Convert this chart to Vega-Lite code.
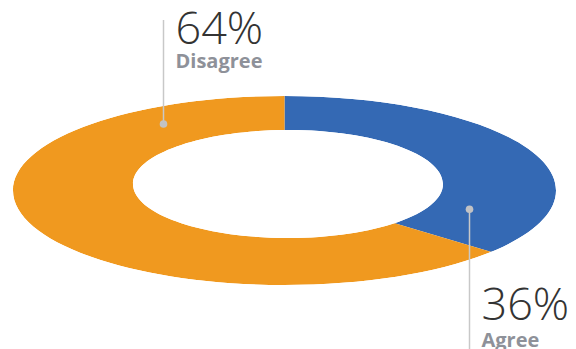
{
  "$schema": "https://vega.github.io/schema/vega-lite/v6.json",
  "width": 569,
  "height": 317,
  "autosize": "none",
  "padding": {"left": 0, "right": 7, "top": 32, "bottom": 0},
  "background": "white",
  "config": {"view": {"stroke": null}},
  "data": {
    "values": [
      {"answer": "Agree", "share": 0.36},
      {"answer": "Disagree", "share": 0.64}
    ]
  },
  "resolve": {"scale": {"y": "independent"}},
  "layer": [
    {
      "mark": {"type": "arc", "radius": 300},
      "encoding": {
        "theta": {
          "field": "share",
          "type": "quantitative",
          "stack": true,
          "scale": {
            "domain": [0, 0.0625, 0.125, 0.1875, 0.25, 0.3125, 0.375, 0.4375, 0.5, 0.5625, 0.625, 0.6875, 0.75, 0.8125, 0.875, 0.9375, 1],
            "range": [0, 0.872, 1.2359, 1.4277, 1.5708, 1.7139, 1.9057, 2.2696, 3.1416, 4.0136, 4.3775, 4.5693, 4.7124, 4.8555, 5.0473, 5.4112, 6.2832]
          }
        },
        "color": {
          "field": "answer",
          "type": "nominal",
          "scale": {"domain": ["Agree", "Disagree"], "range": ["#3469b4", "#f0991f"]},
          "legend": null
        },
        "order": {"field": "answer", "type": "nominal", "sort": "ascending"}
      }
    },
    {
      "mark": {
        "type": "point",
        "shape": "M-3,-3L3,-3L3,3L-3,3Z M2.715,0A2.715,0.945,0,1,0,-2.715,0A2.715,0.945,0,1,0,2.715,0Z M1.585,-0.065A1.55,0.54,0,1,1,-1.515,-0.065A1.55,0.54,0,1,1,1.585,-0.065Z",
        "size": 40000,
        "filled": true,
        "fill": "white",
        "opacity": 1,
        "strokeWidth": 0
      },
      "encoding": {}
    },
    {
      "mark": {"type": "tick", "orient": "vertical", "thickness": 1.5, "color": "#c8c8c8", "opacity": 1},
      "encoding": {
        "x": {"field": "answer", "type": "nominal", "scale": {"type": "point", "domain": ["Disagree", "Agree"], "range": [163.5, 469.5], "padding": 0}, "axis": null},
        "y": {"field": "answer", "type": "nominal", "scale": {"type": "point", "domain": ["Disagree", "Agree"], "range": [40, 248.5], "padding": 0}, "axis": null},
        "size": {"field": "answer", "type": "nominal", "scale": {"type": "point", "domain": ["Disagree", "Agree"], "range": [104, 143], "padding": 0}, "legend": null}
      }
    },
    {
      "mark": {"type": "point", "filled": true, "size": 58, "color": "#c2c2c4", "opacity": 1, "strokeWidth": 0},
      "encoding": {
        "x": {"field": "answer", "type": "nominal", "scale": {"type": "point", "domain": ["Disagree", "Agree"], "range": [163.5, 469.5], "padding": 0}, "axis": null},
        "y": {"field": "answer", "type": "nominal", "scale": {"type": "point", "domain": ["Disagree", "Agree"], "range": [92, 177.3], "padding": 0}, "axis": null}
      }
    },
    {
      "mark": {"type": "text", "align": "left", "baseline": "alphabetic", "dx": 12, "font": "Open Sans", "fontWeight": 300, "fontSize": 45, "color": "#333333"},
      "encoding": {
        "x": {"field": "answer", "type": "nominal", "scale": {"type": "point", "domain": ["Disagree", "Agree"], "range": [163.5, 469.5], "padding": 0}, "axis": null},
        "y": {"field": "answer", "type": "nominal", "scale": {"type": "point", "domain": ["Disagree", "Agree"], "range": [12.3, 287.7], "padding": 0}, "axis": null},
        "text": {"field": "share", "type": "quantitative", "format": ".0%"}
      }
    },
    {
      "mark": {"type": "text", "align": "left", "baseline": "alphabetic", "dx": 12, "font": "Open Sans", "fontWeight": "bold", "fontSize": 20, "color": "#8e9199"},
      "encoding": {
        "x": {"field": "answer", "type": "nominal", "scale": {"type": "point", "domain": ["Disagree", "Agree"], "range": [163.5, 469.5], "padding": 0}, "axis": null},
        "y": {"field": "answer", "type": "nominal", "scale": {"type": "point", "domain": ["Disagree", "Agree"], "range": [36.3, 315.3], "padding": 0}, "axis": null},
        "text": {"field": "answer", "type": "nominal"}
      }
    }
  ]
}
